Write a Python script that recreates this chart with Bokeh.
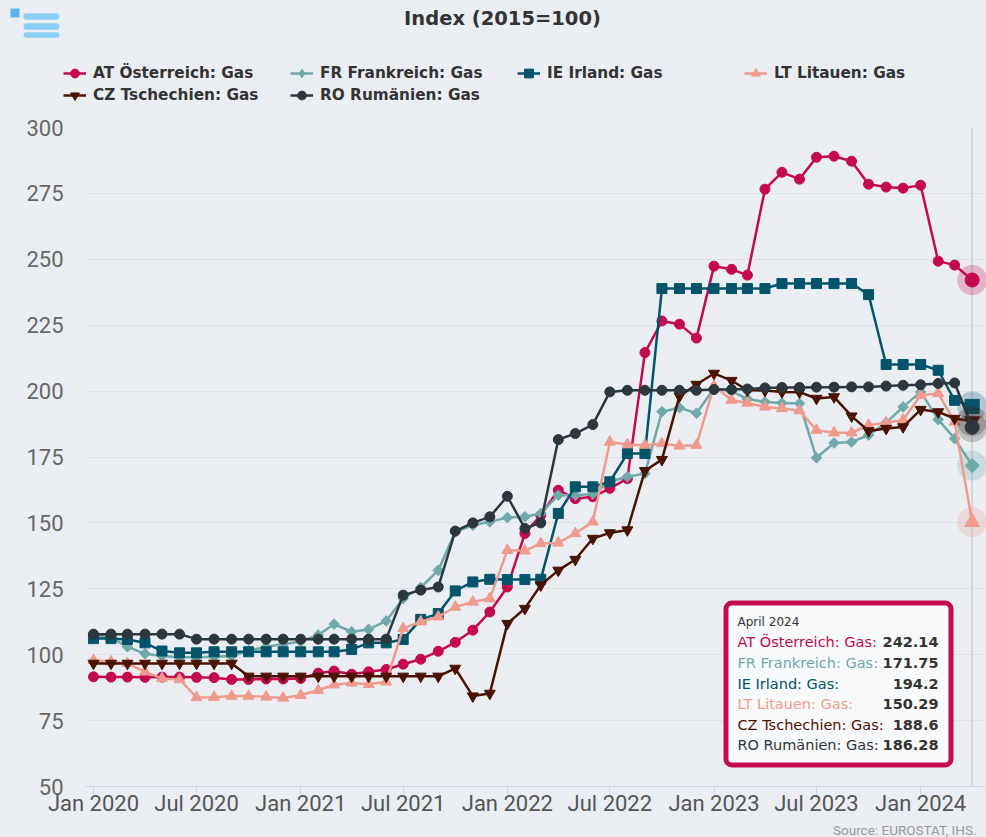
import numpy as np
import pandas as pd
from bokeh.plotting import figure
from bokeh.layouts import column
from bokeh.models import (Legend, LegendItem, Label, Span, BoxAnnotation,
                          FixedTicker, Range1d)
from bokeh.embed import file_html
from bokeh.resources import INLINE

# ---------------- data ----------------
months = pd.date_range("2020-01-01", "2024-04-01", freq="MS")

at_gas = [91.6, 91.5, 91.5, 91.4, 91.5, 91.5, 91.4, 91.3, 90.6, 90.6, 90.8, 90.8, 91.0,
          93.0, 93.8, 92.6, 93.5, 94.4, 96.4, 98.3, 101.3, 104.7, 109.3, 116.2, 125.7,
          146.0, 152.9, 162.4, 159.2, 159.9, 163.1, 166.8, 214.6, 226.6, 225.4, 220.1,
          247.4, 246.2, 244.0, 276.6, 283.0, 280.4, 288.7, 289.1, 287.2, 278.5, 277.4,
          277.0, 278.1, 249.3, 247.8, 242.14]
fr_gas = [107.5, 106.5, 103.0, 100.4, 99.5, 99.0, 99.0, 99.2, 99.5, 101.5, 103.0, 104.0,
          105.0, 107.5, 111.6, 108.7, 109.6, 112.8, 121.3, 125.5, 132.0, 146.6, 149.1,
          150.4, 152.0, 152.3, 153.6, 160.5, 160.5, 161.0, 165.6, 167.5, 168.7, 192.2,
          193.7, 191.6, 201.0, 200.0, 197.0, 195.9, 195.5, 195.3, 174.7, 180.3, 180.7,
          183.3, 188.0, 194.0, 199.7, 189.2, 182.0, 171.75]
ie_gas = [106.1, 106.1, 105.8, 104.5, 101.4, 100.7, 100.7, 101.1, 101.1, 101.1, 101.1,
          101.1, 101.1, 101.1, 101.1, 102.0, 104.5, 104.5, 105.8, 113.4, 115.6, 124.2,
          127.6, 128.6, 128.5, 128.5, 128.6, 153.6, 163.7, 163.7, 165.6, 176.3, 176.3,
          238.9, 238.9, 238.9, 238.9, 238.9, 238.9, 238.9, 240.8, 240.8, 240.8, 240.8,
          240.8, 236.6, 210.1, 210.1, 210.1, 207.9, 196.5, 194.2]
lt_gas = [97.9, 97.3, 96.7, 93.5, 91.0, 90.6, 83.8, 83.9, 84.3, 84.3, 84.0, 83.6, 84.6,
          86.5, 88.6, 89.3, 88.8, 89.7, 110.0, 112.5, 114.4, 118.1, 120.0, 121.3, 139.6,
          139.4, 142.2, 142.4, 146.0, 150.4, 180.7, 179.7, 179.5, 180.1, 179.2, 179.5,
          202.0, 196.6, 195.5, 194.0, 193.4, 192.6, 185.2, 184.2, 184.2, 187.1, 188.0,
          189.0, 198.4, 199.1, 188.3, 150.29]
cz_gas = [96.7, 96.7, 96.7, 96.7, 96.7, 96.7, 96.7, 96.7, 96.7, 91.8, 91.8, 91.8, 91.8,
          91.8, 91.8, 91.8, 91.8, 91.8, 91.8, 91.8, 91.8, 94.8, 84.3, 85.3, 111.8, 117.5,
          126.4, 132.0, 136.1, 144.1, 146.2, 147.3, 169.8, 174.0, 198.1, 202.5, 206.7,
          204.0, 200.3, 200.2, 199.7, 199.6, 197.2, 197.8, 190.5, 184.9, 185.8, 186.4,
          193.0, 192.1, 189.6, 188.6]
ro_gas = [107.8, 107.8, 107.8, 107.8, 107.8, 107.8, 105.9, 105.9, 105.9, 105.9, 105.9,
          105.9, 105.9, 105.9, 105.9, 105.9, 105.9, 105.9, 122.6, 124.5, 125.7, 146.9,
          150.0, 152.3, 160.1, 147.9, 150.0, 181.6, 183.9, 187.3, 199.7, 200.3, 200.3,
          200.3, 200.3, 200.3, 200.6, 200.6, 200.8, 201.2, 201.4, 201.4, 201.5, 201.5,
          201.6, 201.6, 201.9, 202.2, 202.4, 202.9, 203.1, 186.28]

series_names = ["AT Österreich: Gas", "FR Frankreich: Gas", "IE Irland: Gas",
                "LT Litauen: Gas", "CZ Tschechien: Gas", "RO Rumänien: Gas"]
series_values = [at_gas, fr_gas, ie_gas, lt_gas, cz_gas, ro_gas]

y_ticks = [50, 75, 100, 125, 150, 175, 200, 225, 250, 275, 300]
x_tick_dates = ["2020-01-01", "2020-07-01", "2021-01-01", "2021-07-01", "2022-01-01",
                "2022-07-01", "2023-01-01", "2023-07-01", "2024-01-01"]
x_tick_labels = ["Jan 2020", "Jul 2020", "Jan 2021", "Jul 2021", "Jan 2022",
                 "Jul 2022", "Jan 2023", "Jul 2023", "Jan 2024"]
chart_title = "Index (2015=100)"
tooltip_title = "April 2024"
source_text = "Source: EUROSTAT, IHS."

# ---------------- styles ----------------
colors = ["#c5094f", "#6fa9a9", "#03546a", "#ef9a8c", "#4b1200", "#2b373d"]
markers = ["circle", "square", "square", "triangle", "inverted_triangle", "circle"]
msizes = [10, 7.5, 10, 11, 11, 10]
mangles = [0, np.pi / 4, 0, 0, 0, 0]
legend_markers = ["circle", "diamond", "square", "triangle", "inverted_triangle", "circle"]
hover_sizes = [14, 10, 14, 15, 15, 14]
BG = "#eaeef3"
DAY = 86400000.0
W = 986
HEAD_H, FOOT_H = 106, 19
MAIN_H = 837 - HEAD_H - FOOT_H


def ms(d):
    return pd.Timestamp(d).value / 1e6


x_ms = [m.value / 1e6 for m in months]


def blank_figure(h):
    f = figure(width=W, height=h, x_range=Range1d(0, W), y_range=Range1d(0, h),
               output_backend="svg", toolbar_location=None, title=None,
               x_axis_location=None, y_axis_location=None,
               min_border_left=0, min_border_right=0, min_border_top=0,
               min_border_bottom=0)
    f.frame_align = False
    f.background_fill_color = BG
    f.border_fill_color = BG
    f.outline_line_color = None
    f.grid.visible = False
    return f


# ---------------- header (title, legend, menu icon) ----------------
hp = blank_figure(HEAD_H)
items = []
for name, c, mk in zip(series_names, colors, legend_markers):
    # off-canvas point: renderer only supplies the legend swatch style
    lr = hp.line(x=[-500, -400], y=[-500, -500], line_color=c, line_width=2.5)
    sr = hp.scatter(x=[-500], y=[-500], marker=mk, fill_color=c, line_color=c)
    items.append(LegendItem(label=name, renderers=[lr, sr]))
hp.add_layout(Legend(items=items, location=(63, 0), orientation="horizontal",
                     ncols=4, padding=0, margin=0, spacing=0, glyph_width=23,
                     glyph_height=22, label_height=22, label_width=197, label_standoff=7,
                     border_line_alpha=0, background_fill_alpha=0,
                     label_text_font="DejaVu Sans", label_text_font_style="bold",
                     label_text_font_size="15.3px", label_text_color="#333333"))
hp.add_layout(Label(x=502, y=HEAD_H - 18, x_units="screen", y_units="screen",
                    text=chart_title, text_align="center", text_baseline="middle",
                    text_font="DejaVu Sans", text_font_style="bold",
                    text_font_size="19.5px", text_color="#333333"))
for y0, y1 in [(12.7, 19.3), (22.7, 29.3), (31.7, 37.3)]:
    hp.add_layout(BoxAnnotation(left=23, right=59, top=HEAD_H - y0, bottom=HEAD_H - y1,
                                left_units="screen", right_units="screen",
                                top_units="screen", bottom_units="screen",
                                fill_color="#8ccff7", fill_alpha=1, line_alpha=0,
                                border_radius=3))
hp.add_layout(BoxAnnotation(left=10, right=19, top=HEAD_H - 8, bottom=HEAD_H - 17,
                            left_units="screen", right_units="screen",
                            top_units="screen", bottom_units="screen",
                            fill_color="#5cb2f0", fill_alpha=1, line_alpha=0))

# ---------------- main plot ----------------
PL, PT, PR, PB = 85, 127, 986, 786       # frame in page coordinates
FOOT_TOP = HEAD_H + MAIN_H               # 818


def fx(px):
    return px - PL


def fy(py):
    return PB - py


p = figure(width=W, height=MAIN_H, x_axis_type="datetime", output_backend="svg",
           toolbar_location=None, title=None,
           x_range=Range1d(ms("2020-01-01") - 14.1 * DAY, ms("2024-04-01") + 25.3 * DAY),
           y_range=Range1d(50, 300),
           min_border_left=PL, min_border_right=W - PR,
           min_border_top=PT - HEAD_H, min_border_bottom=FOOT_TOP - PB)
p.frame_align = False
p.background_fill_color = BG
p.border_fill_color = BG
p.outline_line_color = None

p.yaxis.ticker = FixedTicker(ticks=y_ticks)
p.yaxis.axis_line_color = None
p.yaxis.major_tick_line_color = None
p.yaxis.minor_tick_line_color = None
p.yaxis.major_tick_out = 0
p.yaxis.major_tick_in = 0
p.yaxis.major_label_standoff = 22
p.yaxis.major_label_text_font = "Roboto"
p.yaxis.major_label_text_font_size = "22px"
p.yaxis.major_label_text_color = "#666666"

p.xaxis.ticker = FixedTicker(ticks=[ms(d) for d in x_tick_dates])
p.xaxis.major_label_overrides = {ms(d): t for d, t in zip(x_tick_dates, x_tick_labels)}
p.xaxis.axis_line_color = "#ccd6eb"
p.xaxis.major_tick_line_color = "#ccd6eb"
p.xaxis.major_tick_out = 8
p.xaxis.major_tick_in = 0
p.xaxis.minor_tick_line_color = None
p.xaxis.major_label_standoff = -4
p.xaxis.major_label_text_font = "Roboto"
p.xaxis.major_label_text_font_size = "22px"
p.xaxis.major_label_text_color = "#555555"

p.ygrid.grid_line_color = "#dde2e8"
p.ygrid.grid_line_width = 1
p.xgrid.grid_line_color = None

p.add_layout(Span(location=x_ms[-1], dimension="height", line_color="#cfcfcf",
                  line_width=1.5, level="underlay"))

for name, vals, c, mk, s, a, hs in zip(series_names, series_values, colors, markers,
                                        msizes, mangles, hover_sizes):
    p.line(x_ms, vals, line_color=c, line_width=2.5)
    p.scatter(x_ms, vals, marker=mk, size=s, angle=a, fill_color=c, line_color=c)
    p.scatter([x_ms[-1]], [vals[-1]], marker="circle", size=30, fill_color=c,
              line_color=None, fill_alpha=0.25)
    p.scatter([x_ms[-1]], [vals[-1]], marker=mk, size=hs, angle=a, fill_color=c,
              line_color=c)

# tooltip
p.add_layout(BoxAnnotation(left=fx(725.5), right=fx(950.5), top=fy(602.5), bottom=fy(764.5),
                           left_units="screen", right_units="screen", top_units="screen",
                           bottom_units="screen", fill_color="#f8f9fb", fill_alpha=0.97,
                           line_color=colors[0], line_alpha=1, line_width=5,
                           border_radius=6))
p.add_layout(Label(x=fx(737), y=fy(621), x_units="screen", y_units="screen",
                   text=tooltip_title, text_baseline="middle", text_font="DejaVu Sans",
                   text_font_size="12px", text_color="#333333"))
row_y = [641.7, 662.3, 683.0, 703.5, 724.0, 744.5]
for name, vals, c, ry in zip(series_names, series_values, colors, row_y):
    p.add_layout(Label(x=fx(737), y=fy(ry), x_units="screen", y_units="screen",
                       text=name + ":", text_baseline="middle", text_font="DejaVu Sans",
                       text_font_size="14.5px", text_color=c))
    p.add_layout(Label(x=fx(938), y=fy(ry), x_units="screen", y_units="screen",
                       text=str(vals[-1]), text_align="right", text_baseline="middle",
                       text_font="DejaVu Sans", text_font_style="bold",
                       text_font_size="14.5px", text_color="#333333"))

# ---------------- footer (source) ----------------
fp = blank_figure(FOOT_H)
fp.add_layout(Label(x=976, y=837 - 829, x_units="screen", y_units="screen",
                    text=source_text, text_align="right", text_baseline="middle",
                    text_font="Roboto", text_font_size="13.5px", text_color="#999999"))

layout = column(hp, p, fp, spacing=0, styles={"background-color": BG})
open("out.html", "w").write(file_html(layout, INLINE))
